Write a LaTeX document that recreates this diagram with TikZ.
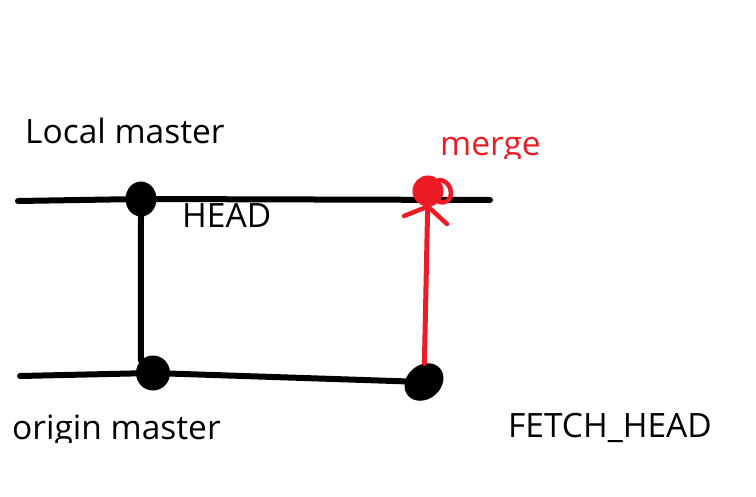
\documentclass[tikz,border=0pt]{standalone}
\usepackage{fontspec}
\setmainfont{Open Sans}
\usetikzlibrary{positioning,shapes.geometric}
\definecolor{rot}{HTML}{ED1C24}

\begin{document}
\begin{tikzpicture}[x=1pt, y=-1pt,
    every node/.style={font=\fontsize{33.5}{38}\selectfont},
    beschriftung/.style={anchor=base west, inner sep=0pt},
    commit/.style={ellipse, fill=black, inner sep=0pt, minimum width=31pt, minimum height=35pt},
    strich/.style={line width=6pt, line cap=round}]
    \useasboundingbox (0,0) rectangle (756,496);
    % Linien
    \coordinate (oa) at (18,201);
    \coordinate (oe) at (490,200);
    \coordinate (ua) at (20,376);
    \node[commit] (lokal) at (141,199) {};
    \node[commit, minimum width=34pt, minimum height=35pt] (ursprung) at (153,373) {};
    \node[commit, minimum width=42pt, minimum height=34pt, rotate=40] (fetch) at (424,382) {};
    \draw[strich] (oa) -- (lokal);
    \draw[strich] (lokal) -- (oe);
    \draw[strich] (ua) -- (ursprung);
    \draw[strich] (ursprung) -- (fetch);
    \draw[strich] (lokal.south) -- (ursprung.north west);
    % merge-Knoten
    \node[circle, draw=rot, fill=rot, line width=4pt, inner sep=0pt, minimum size=27pt] (knoten) at (428,191) {};
    \draw[rot, line width=5pt, line cap=round] (fetch) -- (knoten);
    \draw[rot, line width=4.5pt, line cap=round] (knoten.south) -- (404,216);
    \draw[rot, line width=4.5pt, line cap=round] (knoten.south) -- (447,224);
    \draw[rot, line width=4.5pt, line cap=round] (knoten.north east) .. controls (454,180) and (456,206) .. (knoten.south east);
    % Beschriftungen
    \node[beschriftung] (lm) at (25,143) {Local master};
    \node[beschriftung] (kopf) at (182,227) {HEAD};
    \begin{scope}
        \clip (400,100) rectangle (600,158);
        \node[beschriftung, text=rot] (mrg) at (440,155) {merge};
    \end{scope}
    \begin{scope}
        \clip (0,400) rectangle (300,442);
        \node[beschriftung] (om) at (12,439) {origin master};
    \end{scope}
    \node[beschriftung] (fh) at (508,437) {FETCH\_HEAD};
\end{tikzpicture}
\end{document}
